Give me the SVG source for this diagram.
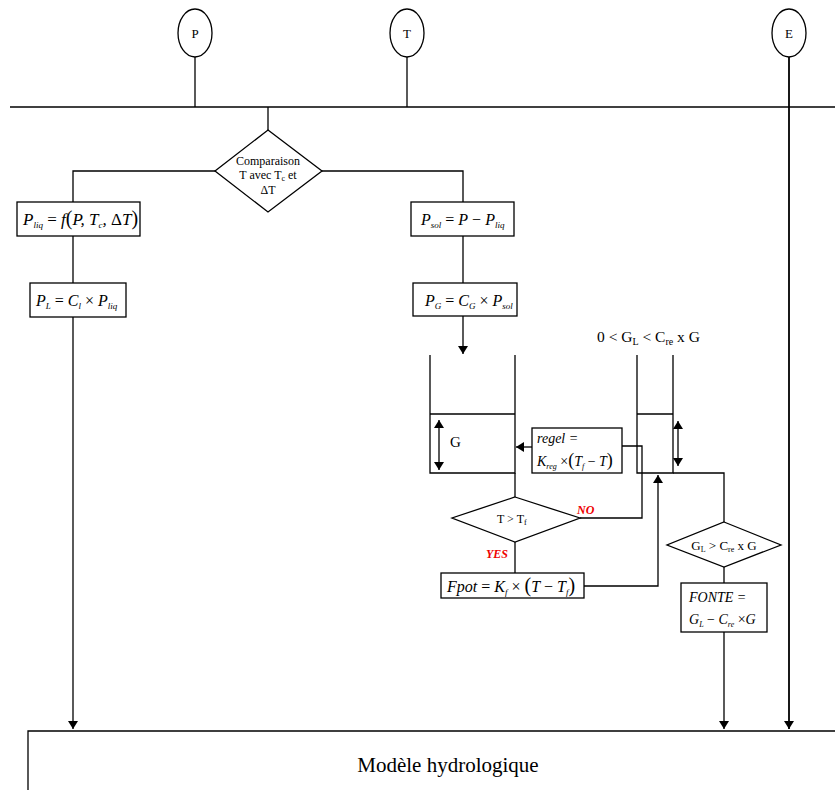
<svg xmlns="http://www.w3.org/2000/svg" width="835" height="790" viewBox="0 0 835 790">
<style>
.ln{stroke:#000;stroke-width:1.3;fill:none}
.bx{stroke:#000;stroke-width:1.3;fill:#fff}
.t{font-family:"Liberation Serif","DejaVu Serif",serif;fill:#000}
.m{font-family:"Liberation Serif","DejaVu Serif",serif;font-style:italic;fill:#000}
.r{font-family:"Liberation Serif","DejaVu Serif",serif;font-style:italic;font-weight:bold;fill:#e00;font-size:12px}
</style>
<defs>
<marker id="ah" markerUnits="userSpaceOnUse" markerWidth="8" markerHeight="10" refX="8" refY="5" orient="auto-start-reverse">
<path d="M0,0 L8,5 L0,10 z" fill="#000"/>
</marker>
</defs>
<rect width="835" height="790" fill="#fff"/>
<g id="connectors">
<line class="ln" x1="10" y1="107" x2="835" y2="107"/>
<line class="ln" x1="195" y1="57" x2="195" y2="107"/>
<line class="ln" x1="407" y1="57" x2="407" y2="107"/>
<line class="ln" x1="268" y1="107" x2="268" y2="130"/>
<polyline class="ln" points="215,171 73,171 73,202"/>
<polyline class="ln" points="322,171 463,171 463,202"/>
<line class="ln" x1="73" y1="236" x2="73" y2="283"/>
<line class="ln" x1="73" y1="317" x2="73" y2="729" marker-end="url(#ah)"/>
<line class="ln" x1="463" y1="236" x2="463" y2="283"/>
<line class="ln" x1="463" y1="316" x2="463" y2="354" marker-end="url(#ah)"/>
<line class="ln" x1="532" y1="447" x2="516" y2="447" marker-end="url(#ah)"/>
<polyline class="ln" points="622,446 642,446 642,518 580,518"/>
<line class="ln" x1="515" y1="473" x2="515" y2="497"/>
<line class="ln" x1="515" y1="542" x2="515" y2="573"/>
<polyline class="ln" points="584,586 658,586 658,475" marker-end="url(#ah)"/>
<polyline class="ln" points="673,473 724,473 724,522"/>
<line class="ln" x1="724" y1="567" x2="724" y2="583"/>
<line class="ln" x1="724" y1="632" x2="724" y2="729" marker-end="url(#ah)"/>
<line x1="789" y1="57" x2="789" y2="729" stroke="#000" stroke-width="1.8" marker-end="url(#ah)"/>
<text class="r" x="577" y="514">NO</text>
<text class="r" x="486" y="558">YES</text>
</g>
<g id="P"><ellipse class="bx" cx="195" cy="33" rx="17" ry="24"/><text class="t" x="195" y="38" font-size="13" text-anchor="middle">P</text></g>
<g id="T"><ellipse class="bx" cx="407" cy="33" rx="17" ry="24"/><text class="t" x="407" y="38" font-size="13" text-anchor="middle">T</text></g>
<g id="E"><ellipse class="bx" cx="789" cy="33" rx="17" ry="24"/><text class="t" x="789" y="38" font-size="13" text-anchor="middle">E</text></g>
<g id="comparaison">
<polygon class="bx" points="268,130 322,171 268,212 215,171"/>
<text class="t" font-size="12" text-anchor="middle"><tspan x="268" y="165">Comparaison</tspan><tspan x="268" y="179">T avec T<tspan font-size="8" dy="2">c</tspan><tspan dy="-2"> et</tspan></tspan><tspan x="268" y="194">ΔT</tspan></text>
</g>
<g id="Pliq">
<rect class="bx" x="17" y="202" width="123" height="34"/>
<text class="m" x="23" y="225" font-size="17">P<tspan font-size="9" dy="3">liq</tspan><tspan dy="-3" font-style="normal"> = </tspan>f<tspan font-style="normal" font-size="20">(</tspan>P, T<tspan font-size="9" dy="3">c</tspan><tspan dy="-3">, </tspan><tspan font-style="normal">Δ</tspan>T<tspan font-style="normal" font-size="20">)</tspan></text>
</g>
<g id="PL">
<rect class="bx" x="30" y="283" width="96" height="34"/>
<text class="m" x="36" y="306" font-size="16">P<tspan font-size="9" dy="3">L</tspan><tspan dy="-3" font-style="normal"> = </tspan>C<tspan font-size="9" dy="3">l</tspan><tspan dy="-3" font-style="normal"> × </tspan>P<tspan font-size="9" dy="3">liq</tspan></text>
</g>
<g id="Psol">
<rect class="bx" x="411" y="202" width="103" height="34"/>
<text class="m" x="421" y="225" font-size="16">P<tspan font-size="9" dy="3">sol</tspan><tspan dy="-3" font-style="normal"> = </tspan>P<tspan font-style="normal"> − </tspan>P<tspan font-size="9" dy="3">liq</tspan></text>
</g>
<g id="PG">
<rect class="bx" x="413" y="283" width="104" height="33"/>
<text class="m" x="425" y="306" font-size="16">P<tspan font-size="9" dy="3">G</tspan><tspan dy="-3" font-style="normal"> = </tspan>C<tspan font-size="9" dy="3">G</tspan><tspan dy="-3" font-style="normal"> × </tspan>P<tspan font-size="9" dy="3">sol</tspan></text>
</g>
<g id="reservoirG">
<polyline class="ln" points="430,355 430,473 515,473 515,355"/>
<line class="ln" x1="430" y1="414" x2="515" y2="414"/>
<line class="ln" x1="439" y1="420" x2="439" y2="470" marker-start="url(#ah)" marker-end="url(#ah)"/>
<text class="t" x="450" y="447" font-size="15">G</text>
</g>
<g id="regel">
<rect class="bx" x="532" y="428" width="90" height="45"/>
<text class="m" font-size="14"><tspan x="537" y="443">regel =</tspan><tspan x="537" y="466">K<tspan font-size="8" dy="3">reg</tspan><tspan dy="-3" font-style="normal"> ×</tspan><tspan font-style="normal" font-size="18">(</tspan>T<tspan font-size="8" dy="3">f</tspan><tspan dy="-3" font-style="normal"> − </tspan>T<tspan font-style="normal" font-size="18">)</tspan></tspan></text>
</g>
<g id="TTf">
<polygon class="bx" points="515,497 580,518 515,542 452,518"/>
<text class="t" x="497" y="523" font-size="12">T &gt; T<tspan font-size="8" dy="2">f</tspan></text>
</g>
<g id="Fpot">
<rect class="bx" x="441" y="573" width="143" height="25"/>
<text class="m" x="447" y="592" font-size="16">Fpot<tspan font-style="normal"> = </tspan>K<tspan font-size="9" dy="3">f</tspan><tspan dy="-3" font-style="normal"> × </tspan><tspan font-style="normal" font-size="20">(</tspan>T<tspan font-style="normal"> − </tspan>T<tspan font-size="9" dy="3">f</tspan><tspan dy="-3" font-style="normal" font-size="20">)</tspan></text>
</g>
<g id="reservoirGL">
<polyline class="ln" points="637,355 637,473 673,473 673,355"/>
<line class="ln" x1="637" y1="414" x2="673" y2="414"/>
<line class="ln" x1="678" y1="421" x2="678" y2="466" marker-start="url(#ah)" marker-end="url(#ah)"/>
<text class="t" x="597" y="342" font-size="15.5">0 &lt; G<tspan font-size="10" dy="3">L</tspan><tspan dy="-3"> &lt; C</tspan><tspan font-size="10" dy="3">re</tspan><tspan dy="-3"> x G</tspan></text>
</g>
<g id="GLdiamond">
<polygon class="bx" points="724,522 781,545 724,567 667,545"/>
<text class="t" x="724" y="550" font-size="13" text-anchor="middle">G<tspan font-size="8" dy="2">L</tspan><tspan dy="-2"> &gt; C</tspan><tspan font-size="8" dy="2">re</tspan><tspan dy="-2"> x G</tspan></text>
</g>
<g id="FONTE">
<rect class="bx" x="681" y="583" width="86" height="49"/>
<text class="m" font-size="14"><tspan x="689" y="602">FONTE =</tspan><tspan x="689" y="624">G<tspan font-size="8" dy="3">L</tspan><tspan dy="-3" font-style="normal"> − </tspan>C<tspan font-size="8" dy="3">re</tspan><tspan dy="-3" font-style="normal"> ×</tspan>G</tspan></text>
</g>
<g id="modele">
<polyline class="ln" points="28,800 28,731 840,731"/>
<text class="t" x="448" y="772" font-size="21" text-anchor="middle">Modèle hydrologique</text>
</g>
</svg>
